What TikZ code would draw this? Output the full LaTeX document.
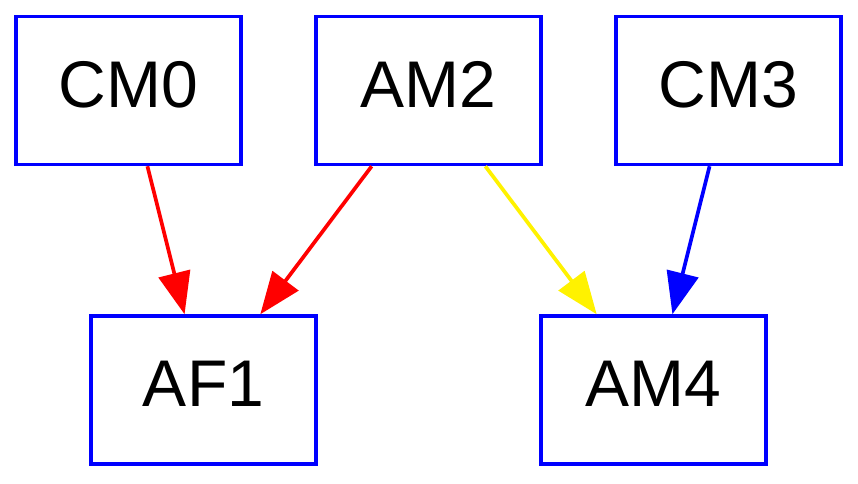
\documentclass[tikz,border=0pt]{standalone}
\usepackage{fontspec}
\setmainfont{Liberation Sans}
\usepackage{tikz}
\usetikzlibrary{arrows.meta}

\begin{document}
\begin{tikzpicture}[x=0.5pt, y=-0.5pt,
    unit/.style={draw=blue, line width=1.75pt, minimum width=112.5pt, minimum height=74pt,
        inner sep=0pt, text depth=6.5pt, font=\fontsize{33}{40}\selectfont},
    link/.style={line width=1.85pt, -{Triangle[length=21pt, width=16pt]}}]
    \useasboundingbox (0,0) rectangle (858,483);

    \node[unit] (cm0) at (128.5,90.5) {CM0};
    \node[unit] (am2) at (428.5,90.5) {AM2};
    \node[unit] (cm3) at (728.5,90.5) {CM3};

    \node[unit] (af1) at (203.5,390) {AF1};
    \node[unit] (am4) at (653.5,390) {AM4};

    \draw[link, red] (cm0) -- (af1);
    \draw[link, red] (am2) -- (af1);
    \draw[link, yellow] (am2) -- (am4);
    \draw[link, blue] (cm3) -- (am4);
\end{tikzpicture}
\end{document}
